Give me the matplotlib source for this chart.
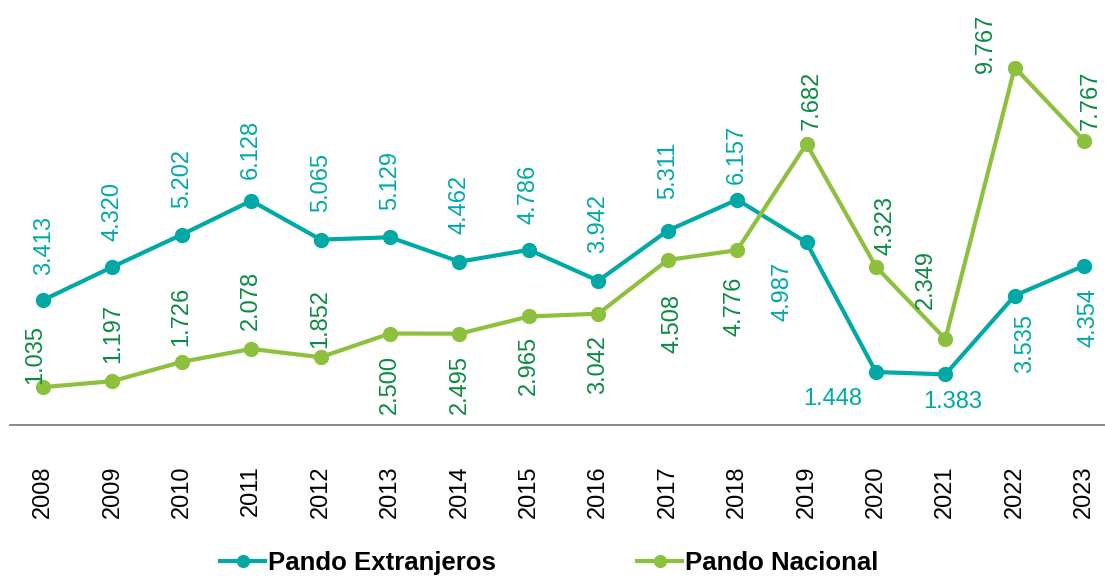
import matplotlib
matplotlib.use("Agg")
import matplotlib.pyplot as plt

# Data
years = ["2008", "2009", "2010", "2011", "2012", "2013", "2014", "2015",
         "2016", "2017", "2018", "2019", "2020", "2021", "2022", "2023"]
extranjeros = [3.413, 4.320, 5.202, 6.128, 5.065, 5.129, 4.462, 4.786,
               3.942, 5.311, 6.157, 4.987, 1.448, 1.383, 3.535, 4.354]
nacional = [1.035, 1.197, 1.726, 2.078, 1.852, 2.500, 2.495, 2.965,
            3.042, 4.508, 4.776, 7.682, 4.323, 2.349, 9.767, 7.767]
series_names = ["Pando Extranjeros", "Pando Nacional"]

# Label placement: centre offset (dx, dy) in pixels from each point, and rotation
ext_offsets = [(1, 55), (0, 55), (0, 56), (0, 51), (0, 57), (0, 57), (0, 57), (0, 55),
               (0, 57), (0, 60), (0, 45), (-24, -49), (-43, -27), (7, -28), (10, -48), (4, -52)]
ext_rot = [90] * 12 + [0, 0] + [90, 90]
nac_offsets = [(-8, 33), (1, 48), (-1, 45), (0, 49), (0, 39), (0, -51), (0, -51), (0, -49),
               (0, -51), (5, -63), (-3, -56), (5, 43), (10, 41), (-19, 60), (-29, 24), (7, 40)]

TEAL = "#00A9A6"
LIME = "#8DC03C"
DKGREEN = "#0A8A42"

plt.rcParams["font.family"] = ["Liberation Sans", "DejaVu Sans"]

W, H = 1105, 577
fig = plt.figure(figsize=(W / 100, H / 100), dpi=100)
ax = fig.add_axes([10 / W, 1 - 425 / H, 1 - 10 / W, 425 / H])

x = list(range(len(years)))
ax.plot(x, extranjeros, color=TEAL, lw=3, marker="o", ms=10,
        label=series_names[0], solid_joinstyle="round", clip_on=False, zorder=3)
ax.plot(x, nacional, color=LIME, lw=3, marker="o", ms=10,
        label=series_names[1], solid_joinstyle="round", clip_on=False, zorder=3)

def fmt(v):
    return f"{v:.3f}"

for xi, v, (dx, dy), rot in zip(x, extranjeros, ext_offsets, ext_rot):
    ax.annotate(fmt(v), (xi, v), xytext=(dx, dy), textcoords="offset pixels",
                ha="center", va="center", rotation=rot, fontsize=17,
                color=TEAL, annotation_clip=False)
for xi, v, (dx, dy) in zip(x, nacional, nac_offsets):
    ax.annotate(fmt(v), (xi, v), xytext=(dx, dy), textcoords="offset pixels",
                ha="center", va="center", rotation=90, fontsize=17,
                color=DKGREEN, annotation_clip=False)

ax.set_xlim(-0.4755, 15.30)
ax.set_ylim(0, 425 / 36.6)
ax.set_xticks(x)
ax.set_xticklabels(years, rotation=90, fontsize=17, va="top", ha="center")
ax.tick_params(axis="x", length=0, pad=29)
ax.set_yticks([])
for s in ["top", "right", "left"]:
    ax.spines[s].set_visible(False)
ax.spines["bottom"].set_color("#7F7F7F")
ax.spines["bottom"].set_linewidth(1.3)
ax.patch.set_alpha(0)

leg = fig.legend(loc="center", bbox_to_anchor=(549.5 / W, 1 - 563 / H), ncol=2,
                 frameon=False, handlelength=1.75, handletextpad=0.12,
                 columnspacing=5.5, borderpad=0, markerscale=0.85,
                 prop={"weight": "bold", "size": 18.5})

fig.savefig("out.png", dpi=100)
